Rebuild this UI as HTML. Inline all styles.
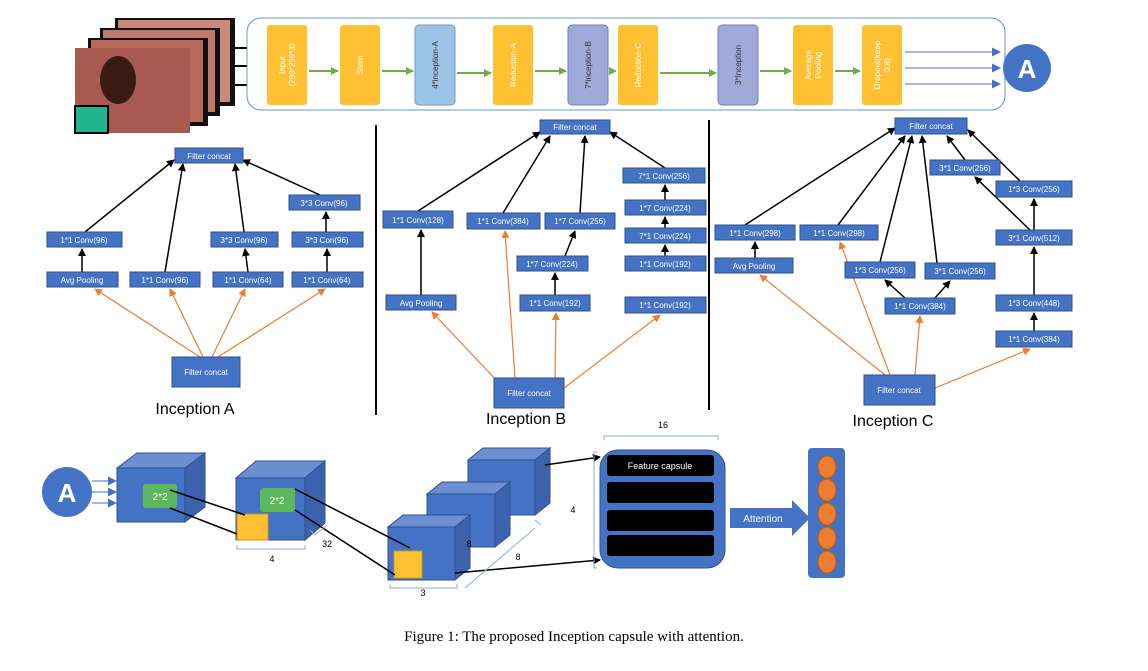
<!DOCTYPE html><html><head><style>body{margin:0;background:#fff}svg{display:block;font-family:"Liberation Sans",sans-serif}</style></head><body>
<svg width="1148" height="671" viewBox="0 0 1148 671" xmlns="http://www.w3.org/2000/svg">
<defs>
<marker id="ak" markerWidth="8" markerHeight="8" refX="7" refY="4" orient="auto" markerUnits="userSpaceOnUse"><path d="M0,0L8,4L0,8z" fill="#000"/></marker>
<marker id="ag" markerWidth="8" markerHeight="8" refX="7" refY="4" orient="auto" markerUnits="userSpaceOnUse"><path d="M0,0L8,4L0,8z" fill="#70ad47"/></marker>
<marker id="ab" markerWidth="9" markerHeight="9" refX="8" refY="4.5" orient="auto" markerUnits="userSpaceOnUse"><path d="M0,0L9,4.5L0,9z" fill="#4472c4"/></marker>
<marker id="ao" markerWidth="8" markerHeight="8" refX="7" refY="4" orient="auto" markerUnits="userSpaceOnUse"><path d="M0,0L8,4L0,8z" fill="#ed7d31"/></marker>
</defs>
<!-- images -->
<rect x="115" y="18" width="120" height="88" fill="#111"/><rect x="118" y="20" width="112" height="82" fill="#c98a7c"/>
<rect x="100" y="28" width="120" height="88" fill="#111"/><rect x="103" y="30" width="112" height="82" fill="#c07a6c"/>
<rect x="88" y="38" width="120" height="88" fill="#111"/><rect x="91" y="40" width="112" height="82" fill="#b86a5c"/>
<rect x="75" y="48" width="115" height="85" fill="#a85a50"/>
<ellipse cx="118" cy="80" rx="18" ry="24" fill="#3a1a14"/>
<rect x="75" y="106" width="33" height="27" fill="#1fb58f" stroke="#000" stroke-width="2"/>
<g stroke="#000" stroke-width="2" marker-end="url(#ak)"><line x1="235" y1="48" x2="265" y2="48"/><line x1="235" y1="66" x2="265" y2="66"/><line x1="235" y1="85" x2="265" y2="85"/></g>
<rect x="247" y="18" width="758" height="92" rx="14" fill="#fff" stroke="#5b9bd5" stroke-width="1"/>
<g font-size="8" fill="#fff" text-anchor="middle">
<rect x="267" y="25" width="40" height="80" rx="3" fill="#ffc032"/><text transform="translate(287,65) rotate(-90)" y="-2">Input</text><text transform="translate(287,65) rotate(-90)" y="8">(299*299*3)</text>
<rect x="340" y="25" width="40" height="80" rx="3" fill="#ffc032"/><text transform="translate(360,65) rotate(-90)" y="3">Stem</text>
<rect x="415" y="25" width="40" height="80" rx="4" fill="#9dc3e6" stroke="#6d9ccb"/><text transform="translate(435,65) rotate(-90)" y="3" fill="#333">4*inception-A</text>
<rect x="493" y="25" width="40" height="80" rx="3" fill="#ffc032"/><text transform="translate(513,65) rotate(-90)" y="3">Reduction-A</text>
<rect x="568" y="25" width="40" height="80" rx="4" fill="#a0aad8" stroke="#6f7fc0"/><text transform="translate(588,65) rotate(-90)" y="3" fill="#333">7*inception-B</text>
<rect x="618" y="25" width="40" height="80" rx="3" fill="#ffc032"/><text transform="translate(638,65) rotate(-90)" y="3">Reduction-C</text>
<rect x="718" y="25" width="40" height="80" rx="4" fill="#a0aad8" stroke="#6f7fc0"/><text transform="translate(738,65) rotate(-90)" y="3" fill="#333">3*Inception</text>
<rect x="793" y="25" width="40" height="80" rx="3" fill="#ffc032"/><text transform="translate(813,65) rotate(-90)" y="-2">Average</text><text transform="translate(813,65) rotate(-90)" y="8">Pooling</text>
<rect x="862" y="25" width="40" height="80" rx="3" fill="#ffc032"/><text transform="translate(882,65) rotate(-90)" y="-2">Dropout(keep</text><text transform="translate(882,65) rotate(-90)" y="8">0.8)</text>
</g>
<g stroke="#70ad47" stroke-width="2" marker-end="url(#ag)"><line x1="309" y1="71" x2="338" y2="71"/><line x1="382" y1="71" x2="413" y2="71"/><line x1="457" y1="73" x2="491" y2="73"/><line x1="535" y1="71" x2="566" y2="71"/><line x1="610" y1="71" x2="616" y2="71"/><line x1="660" y1="73" x2="716" y2="73"/><line x1="760" y1="71" x2="791" y2="71"/><line x1="835" y1="71" x2="860" y2="71"/></g>
<g stroke="#4472c4" stroke-width="1" marker-end="url(#ab)"><line x1="905" y1="52" x2="1000" y2="52"/><line x1="905" y1="68" x2="1000" y2="68"/><line x1="905" y1="84" x2="1000" y2="84"/></g>
<circle cx="1027" cy="68" r="24" fill="#4472c4"/><text x="1027" y="78" font-size="26" fill="#fff" text-anchor="middle" font-weight="bold">A</text>
<line x1="376" y1="125" x2="376" y2="415" stroke="#000" stroke-width="2"/>
<line x1="709" y1="120" x2="709" y2="410" stroke="#000" stroke-width="2"/>
<!-- arrows -->
<g stroke="#000" stroke-width="1.5" marker-end="url(#ak)" fill="none">
<line x1="85" y1="232" x2="174" y2="160"/><line x1="82" y1="272" x2="82" y2="249"/><line x1="165" y1="272" x2="183" y2="164"/><line x1="244" y1="232" x2="235" y2="164"/><line x1="248" y1="272" x2="245" y2="249"/><line x1="320" y1="195" x2="243" y2="160"/><line x1="326" y1="232" x2="326" y2="212"/><line x1="327" y1="272" x2="327" y2="249"/>
<line x1="418" y1="211" x2="540" y2="132"/><line x1="421" y1="295" x2="421" y2="230"/><line x1="503" y1="213" x2="550" y2="136"/><line x1="580" y1="213" x2="585" y2="136"/><line x1="565" y1="256" x2="575" y2="231"/><line x1="555" y1="295" x2="555" y2="273"/><line x1="665" y1="168" x2="610" y2="132"/><line x1="665" y1="200" x2="665" y2="185"/><line x1="665" y1="228" x2="665" y2="217"/><line x1="665" y1="256" x2="665" y2="245"/>
<line x1="745" y1="225" x2="895" y2="128"/><line x1="755" y1="258" x2="755" y2="242"/><line x1="838" y1="225" x2="905" y2="136"/><line x1="880" y1="262" x2="912" y2="136"/><line x1="937" y1="263" x2="922" y2="136"/><line x1="965" y1="160" x2="947" y2="136"/><line x1="1020" y1="181" x2="968" y2="130"/><line x1="905" y1="298" x2="885" y2="280"/><line x1="935" y1="298" x2="950" y2="281"/><line x1="1034" y1="295" x2="1034" y2="247"/><line x1="1034" y1="331" x2="1034" y2="313"/><line x1="1030" y1="230" x2="975" y2="177"/><line x1="1034" y1="230" x2="1034" y2="199"/>
</g>
<g stroke="#ed7d31" stroke-width="1.2" marker-end="url(#ao)">
<line x1="200" y1="357" x2="95" y2="289"/><line x1="203" y1="357" x2="170" y2="289"/><line x1="212" y1="357" x2="245" y2="289"/><line x1="218" y1="357" x2="325" y2="289"/>
<line x1="500" y1="384" x2="432" y2="312"/><line x1="515" y1="378" x2="505" y2="231"/><line x1="555" y1="378" x2="556" y2="313"/><line x1="564" y1="388" x2="660" y2="315"/>
<line x1="885" y1="375" x2="760" y2="275"/><line x1="890" y1="375" x2="840" y2="242"/><line x1="915" y1="375" x2="920" y2="316"/><line x1="935" y1="388" x2="1030" y2="349"/>
</g>
<!-- boxes -->
<g font-size="8" fill="#fff" text-anchor="middle">
<g fill="#4472c4" stroke="#2f528f" stroke-width="1">
<rect x="175" y="148" width="68" height="15"/><rect x="47" y="232" width="75" height="15"/><rect x="47" y="272" width="71" height="15"/><rect x="130" y="272" width="70" height="15"/><rect x="211" y="232" width="67" height="15"/><rect x="213" y="272" width="70" height="15"/><rect x="289" y="195" width="71" height="15"/><rect x="292" y="232" width="71" height="15"/><rect x="292" y="272" width="71" height="15"/><rect x="172" y="357" width="68" height="30"/>
<rect x="540" y="120" width="70" height="14"/><rect x="383" y="211" width="70" height="17"/><rect x="386" y="295" width="70" height="15"/><rect x="467" y="213" width="73" height="16"/><rect x="545" y="213" width="70" height="16"/><rect x="517" y="256" width="71" height="15"/><rect x="520" y="295" width="70" height="16"/><rect x="623" y="168" width="82" height="15"/><rect x="625" y="200" width="81" height="15"/><rect x="625" y="228" width="81" height="15"/><rect x="625" y="256" width="81" height="15"/><rect x="625" y="297" width="81" height="16"/><rect x="494" y="378" width="70" height="30"/>
<rect x="895" y="118" width="72" height="16"/><rect x="930" y="160" width="70" height="15"/><rect x="996" y="181" width="76" height="16"/><rect x="715" y="225" width="80" height="15"/><rect x="800" y="225" width="78" height="15"/><rect x="715" y="258" width="78" height="15"/><rect x="996" y="230" width="76" height="15"/><rect x="845" y="262" width="70" height="16"/><rect x="925" y="263" width="70" height="16"/><rect x="885" y="298" width="70" height="16"/><rect x="996" y="295" width="76" height="16"/><rect x="996" y="331" width="76" height="16"/><rect x="864" y="375" width="71" height="30"/>
</g>
<text x="209" y="159">Filter concat</text><text x="84" y="243">1*1 Conv(96)</text><text x="82" y="283">Avg Pooling</text><text x="165" y="283">1*1 Conv(96)</text><text x="244" y="243">3*3 Conv(96)</text><text x="248" y="283">1*1 Conv(64)</text><text x="324" y="206">3*3 Conv(96)</text><text x="327" y="243">3*3 Con(96)</text><text x="327" y="283">1*1 Conv(64)</text><text x="206" y="375">Filter concat</text>
<text x="575" y="130">Filter concat</text><text x="418" y="223">1*1 Conv(128)</text><text x="421" y="306">Avg Pooling</text><text x="503" y="224">1*1 Conv(384)</text><text x="580" y="224">1*7 Conv(256)</text><text x="552" y="267">1*7 Conv(224)</text><text x="555" y="306">1*1 Conv(192)</text><text x="664" y="179">7*1 Conv(256)</text><text x="665" y="211">1*7 Conv(224)</text><text x="665" y="239">7*1 Conv(224)</text><text x="665" y="267">1*1 Conv(192)</text><text x="665" y="308">1*1 Conv(192)</text><text x="529" y="396">Filter concat</text>
<text x="931" y="129">Filter concat</text><text x="965" y="171">3*1 Conv(256)</text><text x="1034" y="192">1*3 Conv(256)</text><text x="755" y="236">1*1 Conv(298)</text><text x="839" y="236">1*1 Conv(298)</text><text x="754" y="269">Avg Pooling</text><text x="1034" y="241">3*1 Conv(512)</text><text x="880" y="273">1*3 Conv(256)</text><text x="960" y="274">3*1 Conv(256)</text><text x="920" y="309">1*1 Conv(384)</text><text x="1034" y="306">1*3 Conv(448)</text><text x="1034" y="342">1*1 Conv(384)</text><text x="899" y="393">Filter concat</text>
</g>
<g font-size="16" text-anchor="middle" fill="#000"><text x="195" y="414">Inception A</text><text x="526" y="424">Inception B</text><text x="893" y="426">Inception C</text></g>
<!-- bottom -->
<circle cx="67" cy="492" r="25" fill="#4472c4"/><text x="67" y="502" font-size="26" fill="#fff" text-anchor="middle" font-weight="bold">A</text>
<g stroke="#4472c4" stroke-width="1" marker-end="url(#ab)"><line x1="92" y1="481" x2="116" y2="481"/><line x1="92" y1="492" x2="116" y2="492"/><line x1="92" y1="503" x2="116" y2="503"/></g>
<g stroke="#2f528f" stroke-width="1">
<path d="M117,468 l20,-15 h68 l-20,15z" fill="#6b8fd2"/><path d="M185,468 l20,-15 v54 l-20,15z" fill="#3d62ad"/><rect x="117" y="468" width="68" height="54" fill="#4472c4"/>
<path d="M236,478 l20,-17 h69 l-20,17z" fill="#6b8fd2"/><path d="M305,478 l20,-17 v62 l-20,17z" fill="#3d62ad"/><rect x="236" y="478" width="69" height="62" fill="#4472c4"/>
<path d="M468,460 l15,-12 h67 l-15,12z" fill="#6b8fd2"/><path d="M535,460 l15,-12 v55 l-15,12z" fill="#3d62ad"/><rect x="468" y="460" width="67" height="55" fill="#4472c4"/>
<path d="M427,494 l15,-12 h68 l-15,12z" fill="#6b8fd2"/><path d="M495,494 l15,-12 v53 l-15,12z" fill="#3d62ad"/><rect x="427" y="494" width="68" height="53" fill="#4472c4"/>
<path d="M388,527 l15,-12 h67 l-15,12z" fill="#6b8fd2"/><path d="M455,527 l15,-12 v53 l-15,12z" fill="#3d62ad"/><rect x="388" y="527" width="67" height="53" fill="#4472c4"/>
</g>
<rect x="143" y="484" width="34" height="24" rx="3" fill="#5cb85c"/><text x="160" y="500" font-size="10" fill="#fff" text-anchor="middle">2*2</text>
<rect x="260" y="488" width="35" height="24" rx="3" fill="#5cb85c"/><text x="277" y="504" font-size="10" fill="#fff" text-anchor="middle">2*2</text>
<rect x="237" y="514" width="31" height="26" fill="#ffc032" stroke="#c59a20"/>
<rect x="394" y="551" width="28" height="27" fill="#ffc032" stroke="#c59a20"/>
<g stroke="#000" stroke-width="1.5"><line x1="170" y1="490" x2="245" y2="515"/><line x1="170" y1="508" x2="237" y2="534"/><line x1="295" y1="489" x2="410" y2="548"/><line x1="295" y1="510" x2="395" y2="575"/></g>
<g stroke="#000" stroke-width="1.5" marker-end="url(#ak)"><line x1="545" y1="465" x2="600" y2="457"/><line x1="455" y1="573" x2="600" y2="560"/></g>
<g fill="none" stroke="#8eaadb" stroke-width="1"><path d="M237,545 v4 h68 v-4"/><path d="M390,584 v4 h67 v-4"/><path d="M310,530 l5,5 l12,-10"/><path d="M465,588 l70,-60 M535,520 l6,5"/><path d="M604,440 v-4 h114 v4"/><path d="M597,452 h-3 v116 h3"/></g>
<g font-size="9" fill="#000" text-anchor="middle"><text x="272" y="562">4</text><text x="327" y="547">32</text><text x="423" y="596">3</text><text x="469" y="547">8</text><text x="518" y="560">8</text><text x="663" y="428">16</text><text x="573" y="513">4</text></g>
<rect x="600" y="450" width="125" height="118" rx="18" fill="#4472c4" stroke="#2f528f"/>
<rect x="607" y="455" width="107" height="21" rx="3" fill="#000"/><text x="660" y="469" font-size="9" fill="#fff" text-anchor="middle">Feature capsule</text>
<rect x="607" y="482" width="107" height="21" rx="3" fill="#000"/><rect x="607" y="510" width="107" height="21" rx="3" fill="#000"/><rect x="607" y="535" width="107" height="21" rx="3" fill="#000"/>
<path d="M730,508 h62 v-8 l18,18 l-18,18 v-8 h-62z" fill="#4472c4"/><text x="763" y="522" font-size="10" fill="#fff" text-anchor="middle">Attention</text>
<rect x="808" y="448" width="37" height="130" rx="4" fill="#4472c4"/>
<g fill="#ed7d31" stroke="#c55a11"><ellipse cx="827" cy="467" rx="9" ry="11"/><ellipse cx="827" cy="490" rx="9" ry="11"/><ellipse cx="827" cy="514" rx="9" ry="11"/><ellipse cx="827" cy="538" rx="9" ry="11"/><ellipse cx="827" cy="562" rx="9" ry="11"/></g>
<text x="574" y="641" font-size="15" text-anchor="middle" font-family="Liberation Serif,serif">Figure 1: The proposed Inception capsule with attention.</text>
</svg></body></html>
